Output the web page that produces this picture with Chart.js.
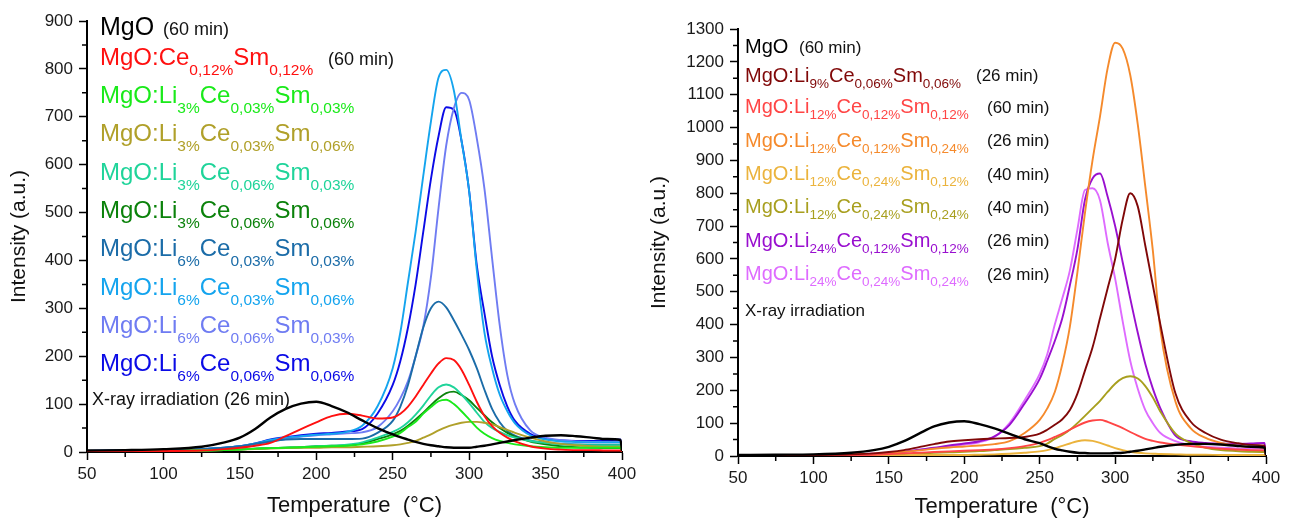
<!DOCTYPE html>
<html>
<head>
<meta charset="utf-8">
<script src="https://cdn.jsdelivr.net/npm/chart.js@4.4.1/dist/chart.umd.min.js"></script>
<style>
  html, body { margin: 0; padding: 0; background: #fff; }
  #page { position: relative; width: 1291px; height: 521px; overflow: hidden; font-family: 'Liberation Sans', Arial, sans-serif; }
  .box { position: absolute; top: 0; height: 521px; }
  .txt { position: absolute; white-space: nowrap; }
  .txt sub { line-height: 0; }
</style>
</head>
<body>
<div id="page">
  <div class="box" style="left:0;width:645px"><canvas id="leftChart"></canvas></div>
  <div class="box" style="left:645px;width:646px"><canvas id="rightChart"></canvas></div>
</div>
<script>
// temperature grid (°C) shared by both panels
const temps = [50, 75, 100, 125, 140, 150, 160, 170, 180, 190, 200, 210, 220, 230, 240, 250, 255, 260, 265, 270,
               275, 280, 285, 290, 295, 300, 305, 310, 315, 320, 325, 330, 340, 350, 360, 370, 380, 390, 399, 400];

// left panel
const mgoLeft   = [3, 4, 6, 11, 20, 30, 48, 72, 90, 101, 105, 96, 83, 66, 50, 37, 31, 26, 21, 17, 14, 12, 10, 9, 9, 9, 11, 13, 16, 19, 22, 25, 30, 34, 35, 33, 30, 27, 25, 2];
const ceSm      = [1, 1, 2, 3, 6, 9, 13, 19, 33, 48, 62, 75, 80, 76, 70, 72, 80, 95, 116, 140, 164, 185, 196, 192, 172, 140, 105, 75, 54, 40, 30, 22, 12, 7, 5, 4, 4, 3, 3, 1];
const li3_03_03 = [1, 1, 2, 3, 4, 5, 7, 8, 9, 10, 11, 12, 13, 16, 22, 32, 40, 52, 63, 80, 94, 106, 109, 100, 85, 68, 51, 38, 29, 23, 19, 16, 12, 10, 9, 9, 9, 9, 9, 1];
const li3_03_06 = [1, 1, 2, 3, 4, 5, 6, 7, 8, 9, 9, 10, 10, 11, 12, 14, 16, 19, 23, 30, 37, 45, 52, 57, 61, 63, 63, 61, 58, 52, 46, 40, 30, 22, 17, 14, 12, 11, 11, 1];
const li3_06_03 = [1, 1, 2, 3, 4, 5, 7, 8, 9, 10, 12, 13, 15, 20, 30, 42, 50, 62, 78, 97, 118, 135, 141, 135, 120, 102, 82, 63, 50, 42, 35, 30, 23, 19, 16, 15, 14, 14, 14, 1];
const li3_06_06 = [1, 1, 2, 3, 4, 5, 7, 8, 9, 10, 12, 13, 14, 18, 27, 37, 44, 55, 68, 82, 98, 112, 123, 126, 119, 108, 92, 77, 62, 50, 40, 32, 22, 16, 12, 10, 9, 8, 8, 1];
const li6_03_03 = [2, 3, 4, 6, 9, 12, 17, 22, 26, 27, 27, 27, 27, 28, 40, 65, 95, 140, 200, 260, 300, 314, 302, 275, 245, 213, 175, 130, 90, 62, 44, 34, 24, 19, 17, 16, 15, 15, 15, 1];
const li6_03_06 = [2, 3, 4, 6, 9, 12, 18, 25, 30, 33, 36, 38, 42, 55, 95, 175, 250, 355, 460, 577, 690, 782, 798, 755, 650, 545, 380, 250, 175, 120, 85, 60, 35, 26, 22, 21, 20, 20, 20, 1];
const li6_06_03 = [2, 3, 4, 6, 8, 10, 15, 22, 27, 32, 35, 37, 39, 41, 52, 85, 112, 148, 200, 262, 365, 510, 640, 718, 750, 735, 655, 550, 405, 265, 160, 100, 45, 30, 25, 22, 21, 21, 21, 1];
const li6_06_06 = [2, 3, 4, 6, 9, 12, 18, 26, 31, 35, 38, 40, 43, 48, 80, 140, 190, 260, 350, 460, 570, 660, 720, 715, 650, 545, 390, 290, 200, 140, 95, 65, 38, 28, 24, 23, 23, 24, 26, 1];

// right panel
const mgoRight   = [3, 4, 5, 10, 18, 28, 45, 68, 90, 102, 106, 97, 84, 67, 51, 39, 30, 22, 17, 13, 10, 9, 8, 8, 8, 9, 10, 13, 16, 20, 24, 28, 34, 37, 37, 35, 31, 28, 26, 2];
const li9_06_06  = [1, 2, 3, 5, 8, 12, 18, 27, 36, 44, 48, 51, 53, 55, 58, 68, 80, 95, 112, 140, 190, 260, 330, 420, 510, 600, 720, 800, 760, 640, 520, 400, 190, 105, 70, 50, 40, 34, 32, 2];
const li12_12_12 = [1, 1, 2, 3, 4, 6, 8, 10, 12, 14, 16, 18, 20, 24, 30, 40, 48, 58, 68, 80, 92, 102, 108, 110, 104, 95, 85, 73, 62, 52, 46, 41, 35, 30, 26, 22, 20, 18, 17, 2];
const li12_12_24 = [1, 2, 3, 5, 7, 10, 13, 17, 22, 26, 29, 32, 36, 45, 70, 110, 145, 195, 280, 394, 560, 740, 900, 1035, 1180, 1258, 1240, 1160, 1010, 820, 625, 385, 165, 85, 55, 40, 32, 27, 25, 2];
const li12_24_12 = [0, 1, 1, 1, 2, 2, 2, 3, 3, 3, 3, 4, 5, 7, 10, 14, 18, 24, 31, 38, 45, 48, 46, 40, 32, 24, 18, 13, 10, 8, 7, 6, 5, 4, 4, 3, 3, 3, 3, 1];
const li12_24_24 = [1, 1, 2, 3, 4, 5, 6, 8, 10, 11, 13, 15, 18, 21, 25, 30, 38, 52, 64, 80, 100, 122, 145, 168, 195, 220, 237, 243, 236, 213, 178, 135, 68, 40, 25, 18, 15, 13, 12, 2];
const li24_12_12 = [1, 2, 3, 5, 7, 9, 13, 19, 25, 32, 38, 45, 60, 95, 160, 235, 290, 350, 420, 520, 630, 780, 845, 860, 790, 700, 590, 480, 375, 280, 205, 145, 62, 45, 40, 38, 37, 38, 40, 2];
const li24_24_24 = [1, 2, 3, 5, 7, 9, 13, 18, 24, 30, 35, 42, 58, 100, 170, 250, 310, 400, 480, 565, 690, 810, 815, 778, 650, 540, 410, 290, 205, 140, 100, 70, 45, 33, 28, 25, 23, 22, 22, 2];

const leftNames = ['MgO', 'MgO:Ce{0,12%}Sm{0,12%}', 'MgO:Li{3%}Ce{0,03%}Sm{0,03%}', 'MgO:Li{3%}Ce{0,03%}Sm{0,06%}',
  'MgO:Li{3%}Ce{0,06%}Sm{0,03%}', 'MgO:Li{3%}Ce{0,06%}Sm{0,06%}', 'MgO:Li{6%}Ce{0,03%}Sm{0,03%}',
  'MgO:Li{6%}Ce{0,03%}Sm{0,06%}', 'MgO:Li{6%}Ce{0,06%}Sm{0,03%}', 'MgO:Li{6%}Ce{0,06%}Sm{0,06%}'];
const leftTimes = ['(60 min)', '(60 min)', '', '', '', '', '', '', '', ''];
const leftColors = ['#000000', '#ff1010', '#1aea1a', '#b0a02a', '#1fd49a', '#0b820b', '#1b6ca8', '#14a4ee', '#6f7cf2', '#0b0be6'];
const leftSeries = [mgoLeft, ceSm, li3_03_03, li3_03_06, li3_06_03, li3_06_06, li6_03_03, li6_03_06, li6_06_03, li6_06_06];

const rightNames = ['MgO', 'MgO:Li{9%}Ce{0,06%}Sm{0,06%}', 'MgO:Li{12%}Ce{0,12%}Sm{0,12%}', 'MgO:Li{12%}Ce{0,12%}Sm{0,24%}',
  'MgO:Li{12%}Ce{0,24%}Sm{0,12%}', 'MgO:Li{12%}Ce{0,24%}Sm{0,24%}', 'MgO:Li{24%}Ce{0,12%}Sm{0,12%}', 'MgO:Li{24%}Ce{0,24%}Sm{0,24%}'];
const rightTimes = ['(60 min)', '(26 min)', '(60 min)', '(26 min)', '(40 min)', '(40 min)', '(26 min)', '(26 min)'];
const rightColors = ['#000000', '#800808', '#ff4545', '#f58a2c', '#ebb33c', '#a89f1e', '#990fcf', '#de6bff'];
const rightSeries = [mgoRight, li9_06_06, li12_12_12, li12_12_24, li12_24_12, li12_24_24, li24_12_12, li24_24_24];

const xTitle = 'Temperature  (°C)';
const yTitle = 'Intensity (a.u.)';

Chart.defaults.font.family = "'Liberation Sans', Arial, sans-serif";
Chart.defaults.color = '#1a1a1a';

// short unlabelled ticks between the labelled ones
const minorTicks = {
  id: 'minorTicks',
  afterDraw(chart) {
    const { ctx, scales: { x, y } } = chart;
    ctx.save();
    ctx.strokeStyle = '#000';
    ctx.lineWidth = 1.5;
    ctx.beginPath();
    for (let v = x.min + 25; v < x.max; v += 50) {
      const px = x.getPixelForValue(v);
      ctx.moveTo(px, y.bottom); ctx.lineTo(px, y.bottom + 5);
    }
    for (let v = 50; v < y.max; v += 100) {
      const py = y.getPixelForValue(v);
      ctx.moveTo(x.left, py); ctx.lineTo(x.left - 5, py);
    }
    ctx.stroke();
    ctx.restore();
  }
};

function makeChart(id, series, names, colors, yMax, geo) {
  const datasets = series.map((vals, i) => ({
    label: names[i].replace(/[{}]/g, ''),
    data: vals.map((v, k) => ({ x: temps[k], y: v })),
    borderColor: colors[i],
    borderWidth: i === 0 ? 2.4 : 1.9,
    pointRadius: 0,
    cubicInterpolationMode: 'monotone',
    fill: false
  }));
  return new Chart(document.getElementById(id), {
    type: 'line',
    data: { datasets },
    plugins: [minorTicks],
    options: {
      responsive: true,
      maintainAspectRatio: false,
      animation: false,
      events: [],
      layout: { padding: { left: 0, right: geo.right, top: geo.top, bottom: 0 } },
      plugins: { legend: { display: false }, tooltip: { enabled: false } },
      scales: {
        x: {
          type: 'linear', min: 50, max: 400,
          afterFit: s => { s.height = geo.xh; },
          ticks: { stepSize: 50, padding: 4, color: '#1a1a1a', font: { size: 17 }, callback: v => String(v) },
          grid: { drawOnChartArea: false, drawTicks: true, tickLength: 8, tickWidth: 1.5, tickColor: '#000' },
          border: { color: '#000', width: 2 },
          title: { display: true, text: xTitle, color: '#111', font: { size: 22 }, padding: { bottom: geo.xtp } }
        },
        y: {
          min: 0, max: yMax,
          afterFit: s => { s.width = geo.yw; },
          ticks: { stepSize: 100, padding: 6, color: '#1a1a1a', font: { size: 17 }, callback: v => String(v) },
          grid: { drawOnChartArea: false, drawTicks: true, tickLength: 8, tickWidth: 1.5, tickColor: '#000' },
          border: { color: '#000', width: 2 },
          title: { display: true, text: yTitle, color: '#111', font: { size: 21 }, padding: { top: geo.ytp } }
        }
      }
    }
  });
}

makeChart('leftChart', leftSeries, leftNames, leftColors, 900, { right: 23, top: 21, xh: 69, yw: 87, xtp: 2, ytp: 7 });
makeChart('rightChart', rightSeries, rightNames, rightColors, 1300, { right: 25, top: 29, xh: 65, yw: 93, xtp: 1, ytp: 2 });

// legend text written inside the plot areas
const page = document.getElementById('page');
function addText(html, x, baseline, size, color, subSize, subDrop) {
  const d = document.createElement('div');
  d.className = 'txt';
  d.style.left = x + 'px';
  d.style.top = (baseline - 0.8465 * size) + 'px';
  d.style.fontSize = size + 'px';
  d.style.lineHeight = size + 'px';
  d.style.color = color;
  d.innerHTML = html.replace(/\{([^}]*)\}/g,
    '<sub style="font-size:' + subSize + 'px;vertical-align:-' + subDrop + 'px">$1</sub>');
  page.appendChild(d);
}

const leftBase = [35, 65, 103.3, 141.7, 180, 218.3, 256.7, 295, 333.3, 371.7];
leftNames.forEach((n, i) => {
  addText(n, 100, leftBase[i], i === 0 ? 25 : 24, leftColors[i], 15.5, 10);
});
addText(leftTimes[0], 163, leftBase[0], 18, '#111', 12, 0);
addText(leftTimes[1], 328, leftBase[1], 18, '#111', 12, 0);
addText('X-ray irradiation (26 min)', 92, 405, 18, '#111', 12, 0);

const rightBase = [53.3, 81.7, 113.3, 146.7, 180, 213.3, 246.7, 280];
const rightTimeX = [799, 976, 987, 987, 987, 987, 987, 987];
rightNames.forEach((n, i) => {
  addText(n, 745, rightBase[i], 20, rightColors[i], 13.5, 6);
  addText(rightTimes[i], rightTimeX[i], rightBase[i], 17, '#111', 12, 0);
});
addText('X-ray irradiation', 745, 316, 17, '#111', 12, 0);
</script>
</body>
</html>
